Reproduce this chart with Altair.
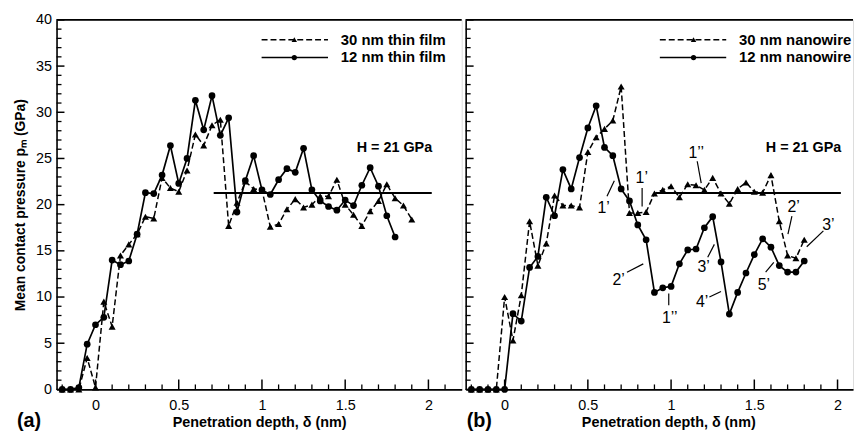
import altair as alt
import pandas as pd

# ---------------- data ----------------
film_x30 = [-0.2, -0.15, -0.1, -0.05, 0, 0.05, 0.1, 0.15, 0.2, 0.25, 0.3, 0.35, 0.4, 0.45, 0.5,
            0.55, 0.6, 0.65, 0.7, 0.75, 0.8, 0.85, 0.9, 0.95, 1.0, 1.05, 1.1, 1.15, 1.2, 1.25,
            1.3, 1.35, 1.4, 1.45, 1.5, 1.55, 1.6, 1.65, 1.7, 1.75, 1.8, 1.85, 1.9]
film_y30 = [0, 0, 0, 3.4, 0.2, 9.5, 6.8, 14.5, 15.7, 16.8, 18.7, 18.5, 22.9, 21.8, 21.4,
            23.7, 27.6, 26.4, 28.6, 29.2, 17.7, 20.2, 22.5, 21.7, 21.6, 17.6, 17.9, 19.5, 20.6, 19.7,
            20.0, 20.9, 20.9, 22.7, 20.0, 18.9, 17.7, 19.3, 20.4, 22.2, 20.7, 19.9, 18.4]

film_x12 = [-0.2, -0.15, -0.1, -0.05, 0, 0.05, 0.1, 0.15, 0.2, 0.25, 0.3, 0.35, 0.4, 0.45, 0.5,
            0.55, 0.6, 0.65, 0.7, 0.75, 0.8, 0.85, 0.9, 0.95, 1.0, 1.05, 1.1, 1.15, 1.2, 1.25,
            1.3, 1.35, 1.4, 1.45, 1.5, 1.55, 1.6, 1.65, 1.7, 1.75, 1.8]
film_y12 = [0, 0, 0.2, 4.9, 7.0, 7.8, 14.0, 13.5, 13.9, 16.8, 21.3, 21.2, 23.2, 26.4, 22.3,
            25.0, 31.3, 28.1, 31.8, 27.5, 29.4, 19.2, 22.6, 25.3, 21.6, 21.1, 22.7, 23.9, 23.5, 26.1,
            21.6, 20.4, 19.8, 19.4, 20.5, 19.9, 22.1, 24.0, 22.0, 18.8, 16.5]

wire_x30 = [-0.2, -0.15, -0.1, -0.05, 0, 0.05, 0.1, 0.15, 0.2, 0.25, 0.3, 0.35, 0.4, 0.45, 0.5,
            0.55, 0.6, 0.65, 0.7, 0.75, 0.8, 0.85, 0.9, 0.95, 1.0, 1.05, 1.1, 1.15, 1.2, 1.25,
            1.3, 1.35, 1.4, 1.45, 1.5, 1.55, 1.6, 1.65, 1.7, 1.75, 1.8]
wire_y30 = [0, 0, 0, 0, 10.0, 5.3, 10.2, 18.2, 13.4, 15.8, 21.0, 19.9, 19.9, 19.7, 25.7,
            27.3, 28.2, 29.1, 32.8, 19.1, 19.1, 19.2, 21.2, 21.6, 22.0, 20.8, 22.2, 22.1, 21.6, 22.9,
            21.2, 20.1, 21.7, 22.4, 21.4, 21.3, 23.2, 18.2, 14.5, 14.2, 16.2]

wire_x12 = [-0.2, -0.15, -0.1, -0.05, 0, 0.05, 0.1, 0.15, 0.2, 0.25, 0.3, 0.35, 0.4, 0.45, 0.5,
            0.55, 0.6, 0.65, 0.7, 0.75, 0.8, 0.85, 0.9, 0.95, 1.0, 1.05, 1.1, 1.15, 1.2, 1.25,
            1.3, 1.35, 1.4, 1.45, 1.5, 1.55, 1.6, 1.65, 1.7, 1.75, 1.8]
wire_y12 = [0, 0, 0, 0, 0, 8.2, 7.4, 13.2, 14.4, 20.8, 18.8, 23.8, 21.7, 25.1, 28.3,
            30.7, 26.2, 25.3, 21.7, 20.4, 17.8, 16.2, 10.5, 11.0, 11.15, 13.6, 15.1, 15.2, 17.5, 18.7,
            13.8, 8.15, 10.5, 12.6, 14.6, 16.3, 15.4, 13.4, 12.7, 12.7, 13.9]

hardness = 21.25
film_h_range = [0.71, 2.02]
wire_h_range = [0.91, 2.02]

film_legend = ["30 nm thin film", "12 nm thin film"]
wire_legend = ["30 nm nanowire", "12 nm nanowire"]

x_major = [0, 0.5, 1, 1.5, 2]
x_minor_left = [-0.2, -0.1, 0.1, 0.2, 0.3, 0.4, 0.6, 0.7, 0.8, 0.9, 1.1, 1.2, 1.3, 1.4,
                1.6, 1.7, 1.8, 1.9, 2.1]
x_minor_right = [-0.2, -0.1, 0.1, 0.2, 0.3, 0.4, 0.6, 0.7, 0.8, 0.9, 1.1, 1.2, 1.3, 1.4,
                 1.6, 1.7, 1.8, 1.9]
y_major = [0, 5, 10, 15, 20, 25, 30, 35, 40]
y_minor = [v for v in range(0, 41) if v % 5 != 0]

ann_text = ["1’", "1’", "1’’", "2’", "3’", "2’", "1’’", "3’", "4’", "5’"]
ann_x = [0.595, 0.824, 1.151, 1.736, 1.945, 0.685, 0.992, 1.196, 1.187, 1.558]
ann_y = [19.66, 22.87, 25.55, 19.76, 17.8, 11.8, 7.69, 13.2, 9.47, 11.26]
lead_x1 = [0.615, 0.826, 1.157, 1.726, 1.915, 0.735, 0.986, 1.22, 1.23, 1.568]
lead_y1 = [20.9, 21.8, 24.7, 18.77, 17.16, 12.69, 10.37, 14.3, 10.0, 12.69]
lead_x2 = [0.659, 0.826, 1.181, 1.702, 1.815, 0.833, 0.986, 1.26, 1.3, 1.617]
lead_y2 = [22.6, 19.8, 22.34, 16.8, 15.44, 13.59, 9.1, 15.7, 10.6, 13.76]

# ---------------- layout ----------------
FONT = "Liberation Sans"
H = 373
X_MIN = -0.234
W_LEFT, XMAX_LEFT = 409, 2.2
W_RIGHT, XMAX_RIGHT = 391, 2.093


def panel(x30, y30, x12, y12, h_range, legend, width, xmax, minor_x, show_y, tag,
          annotations=False):
    xs = alt.Scale(domain=[X_MIN, xmax], nice=False, zero=False)
    ys = alt.Scale(domain=[0, 40], nice=False, zero=False)
    xaxis = alt.Axis(values=x_major, format="~g", ticks=False, grid=False,
                     domainColor="black", domainWidth=1.6, labelFont=FONT,
                     labelFontSize=14.5, labelColor="black", labelPadding=9,
                     title="Penetration depth, δ (nm)", titleFont=FONT, titleFontSize=14.5,
                     titleFontWeight="bold", titleColor="black", titlePadding=4,
                     titleX=204.5)
    if show_y:
        yaxis = alt.Axis(values=y_major, ticks=False, grid=False, domainColor="black",
                         domainWidth=1.6, labelFont=FONT, labelFontSize=14.5,
                         labelColor="black", labelPadding=5,
                         title="Mean contact pressure pₘ (GPa)", titleFont=FONT,
                         titleFontSize=14, titleFontWeight="bold", titleColor="black",
                         titlePadding=8)
    else:
        yaxis = alt.Axis(values=y_major, ticks=False, grid=False, labels=False,
                         domainColor="black", domainWidth=1.6, title=None)

    def X(f="x"):
        return alt.X(f"{f}:Q", scale=xs, axis=xaxis, title="Penetration depth, δ (nm)")

    def Y(f="y"):
        return alt.Y(f"{f}:Q", scale=ys, axis=yaxis,
                     title="Mean contact pressure pₘ (GPa)" if show_y else None)

    d30 = pd.DataFrame({"x": x30, "y": y30})
    d12 = pd.DataFrame({"x": x12, "y": y12})
    one = pd.DataFrame({"a": [0]})

    layers = []
    layers.append(alt.Chart(d30).mark_line(color="black", strokeWidth=1.5,
                                          strokeDash=[6, 3]).encode(x=X(), y=Y()))
    layers.append(alt.Chart(d30).mark_point(shape="triangle-up", filled=True, opacity=1,
                                           color="black", size=50).encode(x=X(), y=Y()))
    layers.append(alt.Chart(d12).mark_line(color="black", strokeWidth=1.7).encode(x=X(), y=Y()))
    layers.append(alt.Chart(d12).mark_circle(color="black", opacity=1, size=46).encode(x=X(), y=Y()))

    hd = pd.DataFrame({"x": [h_range[0]], "x2": [h_range[1]], "y": [hardness]})
    layers.append(alt.Chart(hd).mark_rule(color="black", strokeWidth=2).encode(
        x=X(), x2="x2:Q", y=Y()))

    # inward ticks
    layers.append(alt.Chart(pd.DataFrame({"x": x_major})).mark_tick(
        orient="vertical", size=10, thickness=1.5, yOffset=-5, color="black", opacity=1
    ).encode(x=X(), y=alt.value(H)))
    layers.append(alt.Chart(pd.DataFrame({"x": minor_x})).mark_tick(
        orient="vertical", size=5, thickness=1.3, yOffset=-2.5, color="black", opacity=1
    ).encode(x=X(), y=alt.value(H)))
    layers.append(alt.Chart(pd.DataFrame({"y": y_major})).mark_tick(
        orient="horizontal", size=8, thickness=1.5, xOffset=4, color="black", opacity=1
    ).encode(y=Y(), x=alt.value(0)))
    layers.append(alt.Chart(pd.DataFrame({"y": y_minor})).mark_tick(
        orient="horizontal", size=5, thickness=1.3, xOffset=2.5, color="black", opacity=1
    ).encode(y=Y(), x=alt.value(0)))

    # top border
    layers.append(alt.Chart(one).mark_rule(color="black", strokeWidth=1.6).encode(
        x=alt.value(0), x2=alt.value(width), y=alt.value(0)))

    # legend (drawn by hand)
    lx0, lx1, lmk, ltx = 207, 274, 240, 287
    if not show_y:
        lx0, lx1, lmk, ltx = 196, 263, 230, 276
    for i, yy in enumerate([20, 38]):
        rule = alt.Chart(one).mark_rule(color="black", strokeWidth=1.5,
                                        strokeDash=[6, 3] if i == 0 else [1, 0]).encode(
            x=alt.value(lx0), x2=alt.value(lx1), y=alt.value(yy))
        layers.append(rule)
        if i == 0:
            mk = alt.Chart(one).mark_point(shape="triangle-up", filled=True, opacity=1,
                                           color="black", size=30)
        else:
            mk = alt.Chart(one).mark_circle(color="black", opacity=1, size=28)
        layers.append(mk.encode(x=alt.value(lmk), y=alt.value(yy)))
        layers.append(alt.Chart(one).mark_text(
            text=legend[i], align="left", baseline="middle", font=FONT, fontSize=15,
            fontWeight="bold", color="black").encode(x=alt.value(ltx), y=alt.value(yy)))

    # hardness label
    layers.append(alt.Chart(one).mark_text(
        text="H = 21 GPa", align="left", baseline="middle", font=FONT, fontSize=14.5,
        fontWeight="bold", color="black").encode(x=alt.value(303), y=alt.value(129)))

    # panel tag
    tag_x = -40 if show_y else 1
    layers.append(alt.Chart(one).mark_text(
        text=tag, align="left", baseline="middle", font=FONT, fontSize=20,
        fontWeight="bold", color="black").encode(x=alt.value(tag_x), y=alt.value(405)))

    if annotations:
        ad = pd.DataFrame({"x": ann_x, "y": ann_y, "t": ann_text})
        layers.append(alt.Chart(ad).mark_text(
            align="center", baseline="middle", font=FONT, fontSize=16, color="black"
        ).encode(x=X(), y=Y(), text="t:N"))
        ld = pd.DataFrame({"x": lead_x1, "y": lead_y1, "x2": lead_x2, "y2": lead_y2})
        layers.append(alt.Chart(ld).mark_rule(color="black", strokeWidth=1.2).encode(
            x=X(), y=Y(), x2="x2:Q", y2="y2:Q"))

    return alt.layer(*layers).properties(width=width, height=H)


left = panel(film_x30, film_y30, film_x12, film_y12, film_h_range, film_legend,
             W_LEFT, XMAX_LEFT, x_minor_left, True, "(a)")
right = panel(wire_x30, wire_y30, wire_x12, wire_y12, wire_h_range, wire_legend,
              W_RIGHT, XMAX_RIGHT, x_minor_right, False, "(b)", annotations=True)

chart = alt.hconcat(left, right, spacing=0).properties(
    padding={"left": 5, "top": 1, "right": 0, "bottom": 0},
    background="white",
).configure_view(stroke=None).configure(font=FONT)

chart.save("out.html", embed_options={"renderer": "svg", "actions": False})
